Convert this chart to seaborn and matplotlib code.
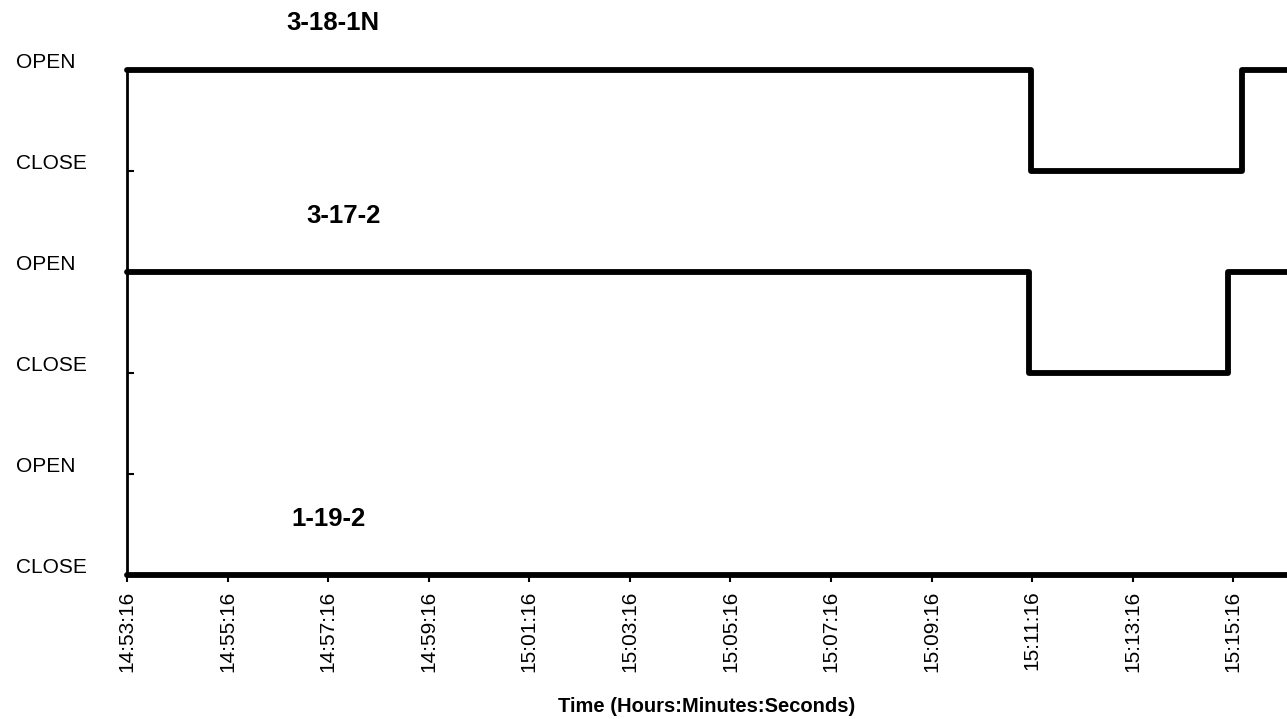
import matplotlib
matplotlib.use("Agg")
import matplotlib.pyplot as plt
import matplotlib.transforms as mtransforms
import seaborn as sns
import pandas as pd
import numpy as np

# ---- data ----
start_time = "14:53:16"
tick_labels = ["14:53:16", "14:55:16", "14:57:16", "14:59:16", "15:01:16", "15:03:16",
               "15:05:16", "15:07:16", "15:09:16", "15:11:16", "15:13:16", "15:15:16"]
end_time = "15:16:20"

valve_names = ["3-18-1N", "3-17-2", "1-19-2"]
# state change times and states (1 = OPEN, 0 = CLOSE)
v1_times = ["14:53:16", "15:11:14", "15:15:26", "15:16:20"]
v1_states = [1, 0, 1, 1]
v2_times = ["14:53:16", "15:11:12", "15:15:10", "15:16:20"]
v2_states = [1, 0, 1, 1]
v3_times = ["14:53:16", "15:16:20"]
v3_states = [0, 0]

ytick_labels = ["CLOSE", "OPEN", "CLOSE", "OPEN", "CLOSE", "OPEN"]


def to_min(t):
    h, m, s = (int(p) for p in t.split(":"))
    t0h, t0m, t0s = (int(p) for p in start_time.split(":"))
    return (h * 3600 + m * 60 + s - (t0h * 3600 + t0m * 60 + t0s)) / 60.0


# offsets: each valve occupies two levels (CLOSE, OPEN)
offsets = {"3-18-1N": 4, "3-17-2": 2, "1-19-2": 0}
rows = []
for name, ts, ss in zip(valve_names, [v1_times, v2_times, v3_times],
                        [v1_states, v2_states, v3_states]):
    for t, s in zip(ts, ss):
        rows.append({"valve": name, "t": to_min(t), "level": s + offsets[name]})
df = pd.DataFrame(rows)

# ---- figure ----
sns.set_theme(style="white")
plt.rcParams["font.family"] = ["Liberation Sans", "DejaVu Sans"]
plt.rcParams["text.color"] = "black"
plt.rcParams["xtick.color"] = "black"
plt.rcParams["ytick.color"] = "black"
plt.rcParams["axes.labelcolor"] = "black"

fig = plt.figure(figsize=(12.87, 7.19), dpi=100)
ax = fig.add_axes([127 / 1287, 1 - 575 / 719, 1 - 127 / 1287, (575 - 70) / 719])

for name in valve_names:
    sub = df[df["valve"] == name]
    sns.lineplot(data=sub, x="t", y="level", ax=ax, drawstyle="steps-post",
                 color="black", linewidth=4.2, clip_on=False, legend=False,
                 estimator=None, sort=False)
    ln = ax.lines[-1]
    ln.set_solid_joinstyle("round")
    ln.set_solid_capstyle("round")

ax.set_xlim(0, to_min(end_time))
ax.set_ylim(0, 5)

ax.set_xticks([to_min(t) for t in tick_labels])
ax.set_xticklabels(tick_labels, rotation=90, fontsize=15, color="black")
ax.set_yticks(range(6))
ax.set_yticklabels(ytick_labels, fontsize=15, ha="left", color="black")

ax.tick_params(axis="x", direction="out", length=5, width=1.5, colors="black",
               pad=6, bottom=True)
ax.tick_params(axis="y", direction="in", length=5, width=1.5, colors="black",
               pad=80, left=True)

# shift y labels slightly upward like reference
offset = mtransforms.ScaledTranslation(0, 7 / 72, fig.dpi_scale_trans)
for lbl in ax.get_yticklabels():
    lbl.set_transform(lbl.get_transform() + offset)

for side in ["top", "right"]:
    ax.spines[side].set_visible(False)
ax.spines["left"].set_linewidth(2)
ax.spines["left"].set_color("black")
ax.spines["bottom"].set_visible(False)

ax.set_xlabel("Time (Hours:Minutes:Seconds)", fontsize=14.5, fontweight="bold",
              labelpad=18, color="black")
ax.set_ylabel("")

# valve name labels
label_pos = {"3-18-1N": (4.1, 5.47), "3-17-2": (4.3, 3.55), "1-19-2": (4.0, 0.55)}
for name in valve_names:
    x, y = label_pos[name]
    ax.text(x, y, name, fontsize=18.5, fontweight="bold", ha="center", va="center",
            color="black")

ax.grid(False)
fig.savefig("out.png", dpi=100)
